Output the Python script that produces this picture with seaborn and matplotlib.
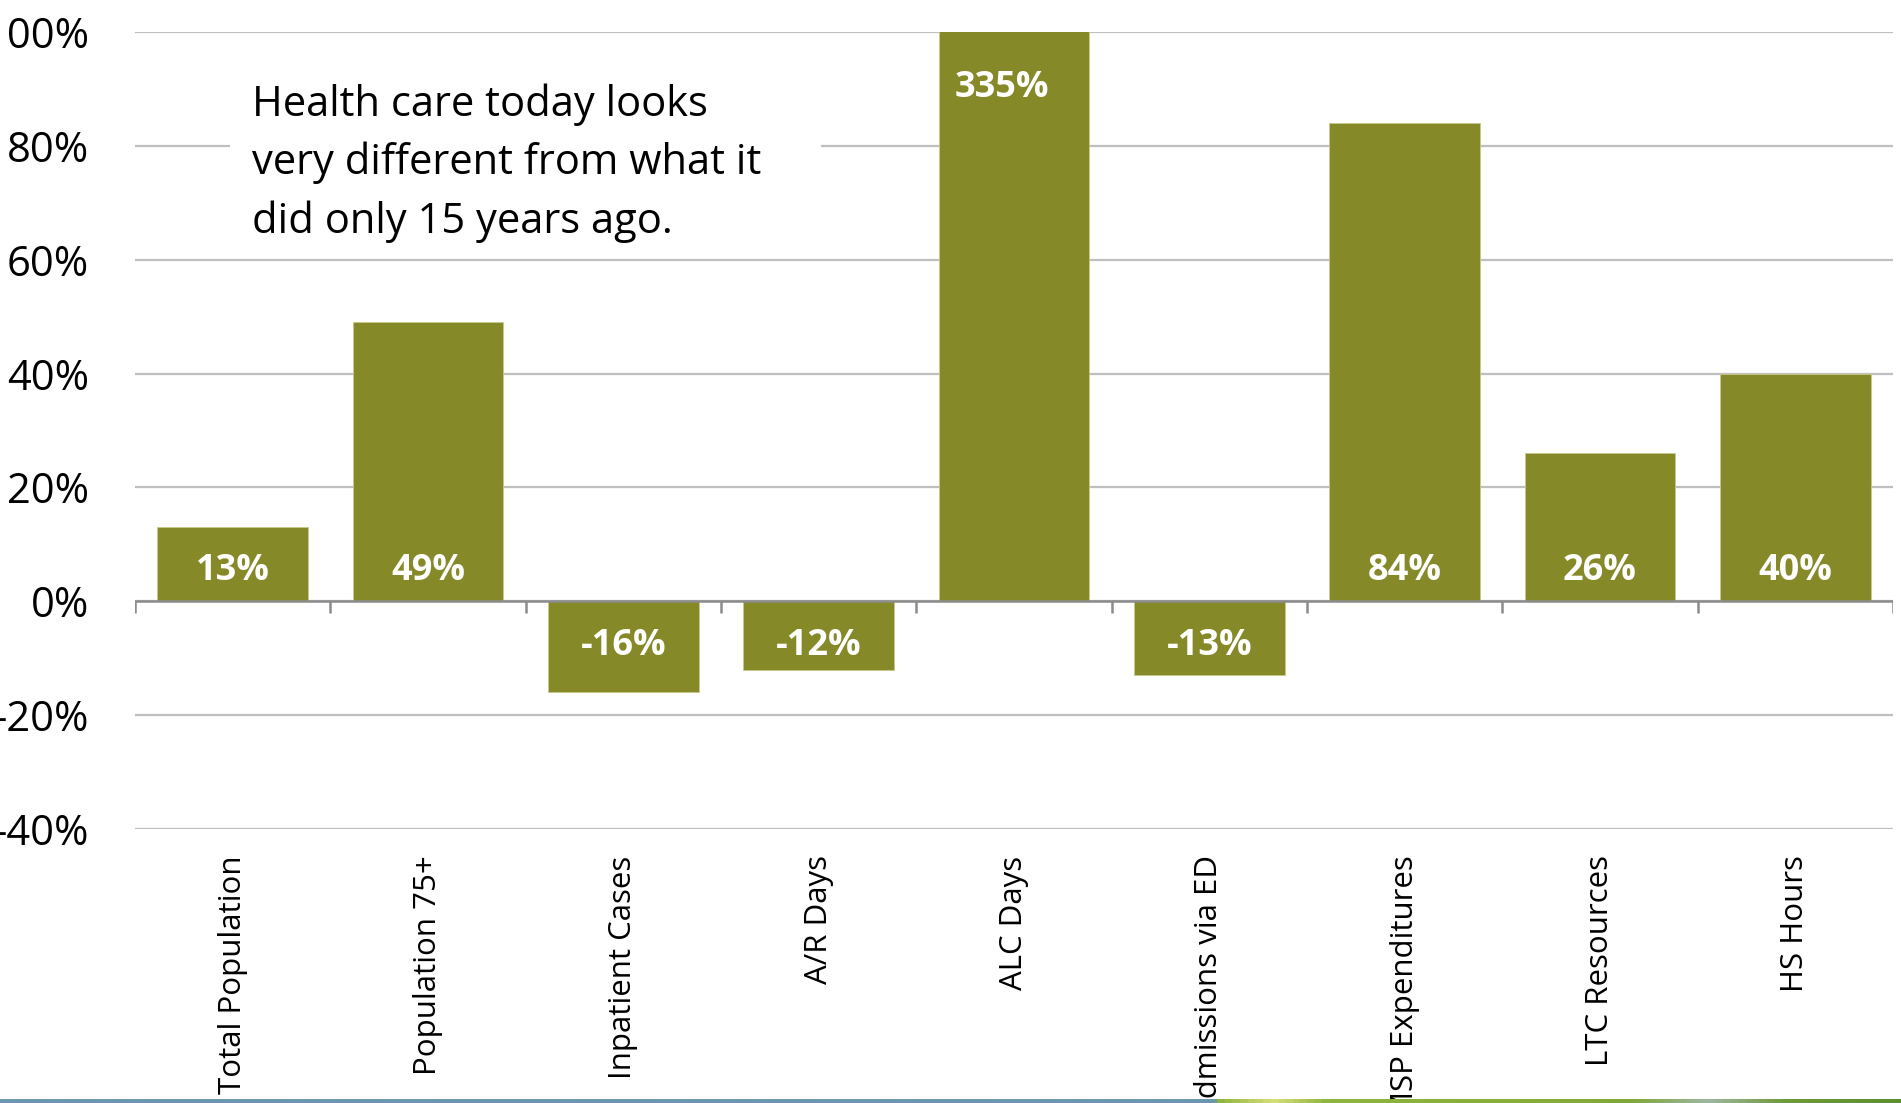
import numpy as np
import matplotlib
matplotlib.use("Agg")
import matplotlib.pyplot as plt
from matplotlib.colors import LinearSegmentedColormap
from matplotlib.patches import Rectangle
import seaborn as sns

# Percentage change over 15 years, by indicator
categories = ["Total Population", "Population 75+", "Inpatient Cases", "A/R Days",
              "ALC Days", "Admissions via ED", "MSP Expenditures", "LTC Resources",
              "HS Hours"]
changes = [13, 49, -16, -12, 335, -13, 84, 26, 40]
y_ticks = [-40, -20, 0, 20, 40, 60, 80, 100]
note = "Health care today looks\nvery different from what it\ndid only 15 years ago."

BAR = "#868928"
GRID = "#BFBFBF"
AXIS = "#8C8C8C"

sns.set_theme(style="white")
plt.rcParams["font.family"] = ["Open Sans", "DejaVu Sans"]

W, H = 1901, 1103
fig = plt.figure(figsize=(W / 100, H / 100), dpi=100)
ax = fig.add_axes([135 / W, 1 - 829 / H, (1893 - 135) / W, (829 - 32) / H])

sns.barplot(x=categories, y=changes, color=BAR, saturation=1, width=0.77,
            ax=ax, zorder=2, edgecolor="#C8CA8A", linewidth=0.6)

ax.set_ylim(y_ticks[0], y_ticks[-1])
ax.set_xlim(-0.5, len(categories) - 0.5)
ax.set_yticks(y_ticks)
ax.set_yticklabels([f"{t}%" for t in y_ticks], fontsize=30, color="black")
ax.tick_params(axis="y", length=0, pad=33)
ax.set_xticks(range(len(categories)))
ax.set_xticklabels(categories, rotation=90, fontsize=22.5, color="black",
                   ha="center", va="top")
ax.tick_params(axis="x", length=0, pad=19)
ax.set_xlabel("")
ax.set_ylabel("")
for s in ax.spines.values():
    s.set_visible(False)

ax.set_axisbelow(True)
ax.yaxis.grid(True, color=GRID, linewidth=1.6)
ax.xaxis.grid(False)

# category axis crossing at zero, with boundary tick marks
ax.axhline(0, color=AXIS, linewidth=1.8, zorder=3)
bounds = np.arange(len(categories) + 1) - 0.5
tick_len = 12 / (796.7 / (y_ticks[-1] - y_ticks[0]))
ax.vlines(bounds, -tick_len, 0, color=AXIS, linewidth=1.8, zorder=3)

# value labels
top = y_ticks[-1]
for i, v in enumerate(changes):
    if v > top:
        ax.annotate(f"{v}%", (i, top), xytext=(-9, -40), textcoords="offset points",
                    ha="center", va="center", color="white", fontsize=26,
                    fontweight="bold", zorder=4)
    elif v >= 0:
        ax.annotate(f"{v}%", (i, 0), xytext=(0, 22), textcoords="offset points",
                    ha="center", va="center", color="white", fontsize=26,
                    fontweight="bold", zorder=4)
    else:
        ax.annotate(f"{v}%", (i, 0), xytext=(0, -32), textcoords="offset points",
                    ha="center", va="center", color="white", fontsize=26,
                    fontweight="bold", zorder=4)

# note box over the gridlines
ax.add_patch(Rectangle((0.054, 0.726), 0.336, 0.258, transform=ax.transAxes,
                       facecolor="white", edgecolor="none", zorder=1))
ax.text(0.0666, 0.936, note, transform=ax.transAxes, ha="left", va="top",
        fontsize=30, color="black", linespacing=1.5, zorder=4)

# decorative strip along the bottom edge
strip = fig.add_axes([0, 0, 1, 4 / H])
strip_colors = [(0.0, "#6A96B0"), (0.639, "#6A96B0"), (0.641, "#8BB23A"),
                (0.67, "#D6DF7A"), (0.70, "#8DB43C"), (0.80, "#88AE38"),
                (0.86, "#7FA73A"), (0.90, "#9DB7A0"), (0.94, "#6F9B3A"),
                (1.0, "#5C8F2E")]
cmap = LinearSegmentedColormap.from_list("strip", strip_colors)
strip.imshow(np.linspace(0, 1, 1000)[None, :], aspect="auto", cmap=cmap,
             extent=[0, 1, 0, 1])
strip.axis("off")

fig.savefig("out.png", dpi=100)
